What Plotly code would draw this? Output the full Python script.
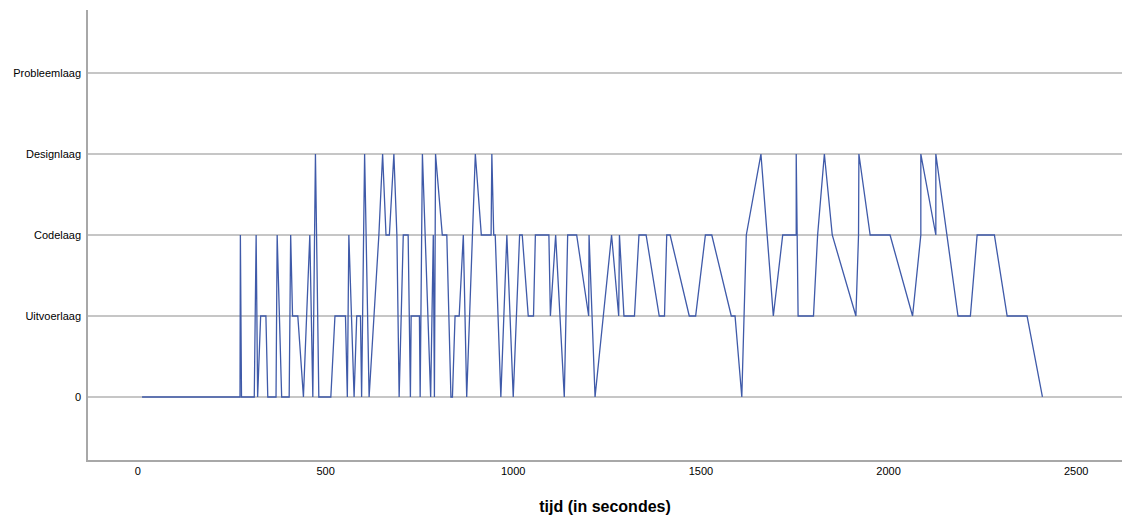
import plotly.graph_objects as go

# time (s) and layer level (0 = "0", 1 = Uitvoerlaag, 2 = Codelaag, 3 = Designlaag, 4 = Probleemlaag)
tijd = [11, 272, 273, 276, 310, 315, 319, 327, 341, 346, 368, 371, 383, 403, 407, 412, 426, 441,
        458, 466, 473, 482, 514, 525, 553, 558, 562, 576, 583, 593, 596, 604, 616, 642, 652, 661,
        670, 682, 690, 696, 707, 720, 726, 728, 750, 752, 758, 780, 787, 790, 793, 811, 823, 834,
        838, 845, 856, 867, 876, 899, 915, 941, 943, 948, 952, 967, 983, 1000, 1017, 1024, 1040,
        1054, 1059, 1095, 1099, 1113, 1136, 1145, 1169, 1201, 1202, 1218, 1262, 1281, 1283, 1295,
        1323, 1335, 1354, 1389, 1403, 1409, 1418, 1469, 1486, 1512, 1529, 1581, 1591, 1609, 1621,
        1660, 1693, 1718, 1754, 1754, 1759, 1800, 1811, 1829, 1850, 1913, 1920, 1921, 1951, 2004,
        2064, 2086, 2086, 2126, 2126, 2185, 2218, 2236, 2282, 2316, 2369, 2410]
laag = [0, 0, 2, 0, 0, 2, 0, 1, 1, 0, 0, 2, 0, 0, 2, 1, 1, 0,
        2, 0, 3, 0, 0, 1, 1, 0, 2, 0, 1, 1, 0, 3, 0, 2, 3, 2,
        2, 3, 2, 0, 2, 2, 0, 1, 1, 0, 3, 0, 2, 0, 3, 2, 2, 0,
        0, 1, 1, 2, 0, 3, 2, 2, 3, 2, 2, 0, 2, 0, 2, 2, 1,
        1, 2, 2, 1, 2, 0, 2, 2, 1, 2, 0, 2, 1, 2, 1,
        1, 2, 2, 1, 1, 2, 2, 1, 1, 2, 2, 1, 1, 0, 2,
        3, 1, 2, 2, 3, 1, 1, 2, 3, 2, 1, 2, 3, 2, 2,
        1, 2, 3, 2, 3, 1, 1, 2, 2, 1, 1, 0]

y_tickvals = [0, 1, 2, 3, 4]
y_ticktext = ["0", "Uitvoerlaag", "Codelaag", "Designlaag", "Probleemlaag"]
x_tickvals = [0, 500, 1000, 1500, 2000, 2500]

FONT = "Liberation Sans, Arial, sans-serif"

fig = go.Figure()
fig.add_trace(go.Scatter(
    x=tijd, y=laag, mode="lines",
    line=dict(color="#3f5aa9", width=1.3),
    hoverinfo="x+y", showlegend=False,
))

fig.update_layout(
    width=1122, height=521,
    margin=dict(l=88, r=0, t=10, b=61),
    paper_bgcolor="white", plot_bgcolor="white",
    font=dict(family=FONT, size=11, color="#000000"),
    xaxis=dict(
        range=[-133, 2622],
        tickvals=x_tickvals,
        tickfont=dict(family=FONT, size=11, color="#000000"),
        ticks="", showgrid=False, zeroline=False,
        showline=True, linecolor="#a8a8a8", linewidth=1.5,
        ticklabelstandoff=0,
        title=dict(text="<b>tijd (in secondes)</b>",
                   font=dict(size=16, family=FONT, color="#000000"), standoff=25),
    ),
    yaxis=dict(
        range=[-0.778, 4.778],
        tickvals=y_tickvals, ticktext=y_ticktext,
        tickfont=dict(family=FONT, size=11, color="#000000"),
        ticks="", showgrid=True, gridcolor="#c6c6c6", gridwidth=1.5,
        zeroline=False,
        showline=True, linecolor="#a8a8a8", linewidth=1.5,
        ticklabelstandoff=3,
    ),
)

fig.write_html("out.html")
